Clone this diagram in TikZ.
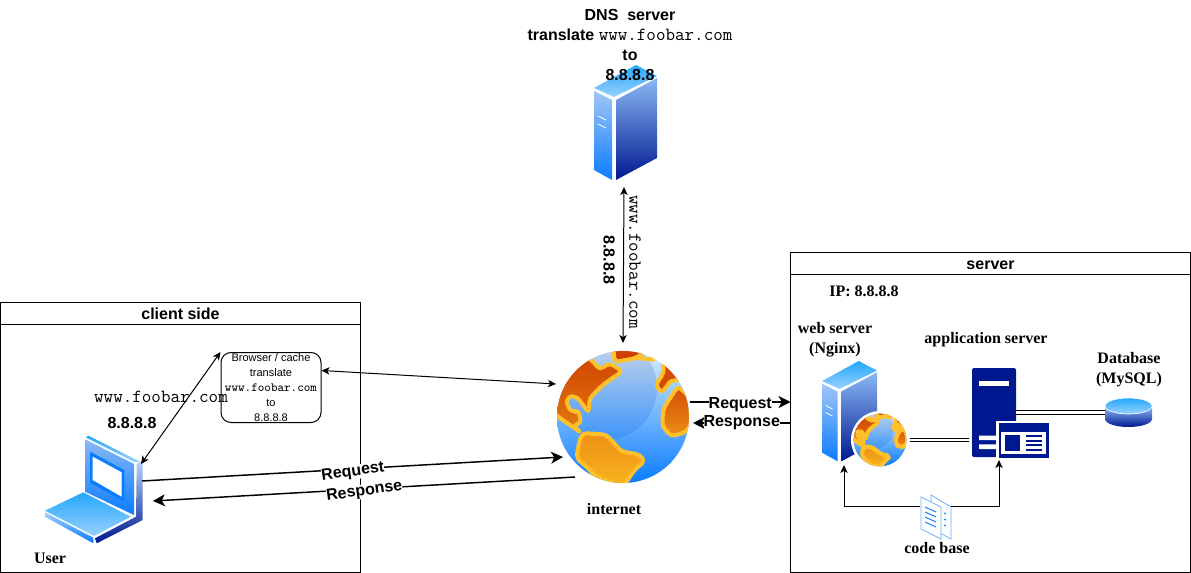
\documentclass[tikz,border=0pt]{standalone}
\usepackage{fontspec}
\setmainfont{Liberation Serif}
\setsansfont{Liberation Sans}
\usepackage{tikz}
\usetikzlibrary{arrows.meta, positioning, calc}
\definecolor{netNavy}{HTML}{00188F}
\definecolor{netBlue}{HTML}{0A7CFF}
\definecolor{netSky}{HTML}{22A8FB}
\definecolor{netPale}{HTML}{9AD0FF}
\definecolor{netSoft}{HTML}{8AB8F4}
\definecolor{netYellow}{HTML}{FFC02A}
\definecolor{netRust}{HTML}{CE3F00}
\definecolor{netAmber}{HTML}{F9B41E}
\definecolor{netDoc}{HTML}{66B2FF}
\newcommand{\fooweb}{{\ttfamily\fontsize{13.9}{15}\selectfont\mdseries www.foobar.com}}

\tikzset{
    % tower icon, drawn from the top left corner of its box (63 x 115)
    towericon/.pic={
        \shade[top color=netSky, bottom color=netPale] (0,23) -- (42,0) -- (63,11) -- (20,32) -- cycle;
        \shade[top color=netSoft!80, bottom color=netBlue] (0,26) -- (18,35) -- (18,115) -- (0,105) -- cycle;
        \shade[top color=netSoft, bottom color=netNavy] (22,35) -- (63,13) -- (63,93) -- (22,115) -- cycle;
        \draw[white, line width=0.6pt] (4,51) -- (12,55) (4,59) -- (12,63);
    },
    % globe icon, unit is one third of a reference pixel from the centre
    continent/.style={draw=netYellow, line width=3pt, rounded corners=3pt, line join=round},
    globeicon/.pic={
        \begin{scope}[x=0.25pt, y=-0.25pt]
            \shade[top color=netPale!40, middle color=netBlue!55!white, bottom color=netBlue] (0,0) circle (198);
            \begin{scope}
                \clip (0,0) circle (198);
                \shade[top color=netSoft!30!white!85!gray, bottom color=netBlue!60!netSoft] (-55,-87) circle (157);
                \path[continent, top color=netRust, bottom color=netRust!50!netAmber]
                    (-215,-15) -- (-190,-210) -- (-95,-172) -- (-70,-142) -- (-40,-162) -- (-2,-137) -- (-60,-97) -- (-100,-57) -- (-103,-12) -- (-120,-37) -- (-140,-62) -- (-165,-62) -- (-170,-37) -- (-150,-12) -- (-135,-22) -- (-125,18) -- (-150,25) -- (-125,48) -- cycle;
                \path[continent, fill=netRust]
                    (-30,-220) -- (-25,-165) -- (40,-177) -- (65,-195) -- (80,-230) -- cycle;
                \draw[continent] (40,-177) -- (95,-172);
                \path[continent, fill=netRust!90!netAmber]
                    (120,-190) -- (122,-132) -- (98,-97) -- (115,-72) -- (135,-97) -- (145,-112) -- (165,-107) -- (230,-160) -- cycle;
                \path[continent, top color=netRust!90!netAmber, bottom color=netRust!30!netAmber]
                    (165,-92) -- (135,-47) -- (120,-22) -- (118,28) -- (145,58) -- (190,45) -- (205,20) -- (200,-60) -- cycle;
                \path[continent, top color=netRust!30!netAmber, bottom color=netAmber]
                    (-130,68) -- (-140,123) -- (-100,158) -- (-85,178) -- (0,210) -- (35,158) -- (65,133) -- (50,113) -- (-5,103) -- (-50,53) -- (-120,48) -- cycle;
            \end{scope}
        \end{scope}
    },
    % laptop icon, drawn from the top left corner of its box (98 x 110)
    laptopicon/.pic={
        \shade[top color=netSky, bottom color=netPale] (43,0.5) -- (95,26.7) -- (90,27.3) -- (41,2.5) -- cycle;
        \shade[top color=netSoft, bottom color=netBlue] (40,4.3) -- (89,29) -- (89,80) -- (40,56.7) -- cycle;
        \fill[netBlue] (45,16.7) -- (79.3,35) -- (79.3,66.7) -- (45,47.7) -- cycle;
        \fill[white] (47.7,21.7) -- (76.7,37.3) -- (76.7,61.7) -- (47.7,45) -- cycle;
        \shade[top color=netSoft!60, bottom color=netNavy] (91.7,29) -- (97.7,25.7) -- (97.7,85) -- (51.7,108.3) -- (50,103.3) -- (91,81.7) -- cycle;
        \shade[top color=netSky, bottom color=netPale] (0,75.7) -- (38.3,57.3) -- (85.7,81.7) -- (49,101) -- cycle;
        \shade[top color=netPale, bottom color=netBlue] (0,77.3) -- (48.3,102.7) -- (48.3,108.3) -- (0,81.7) -- cycle;
    },
    % database icon, from the top left corner of its box (47 x 29)
    dbicon/.pic={
        \shade[top color=netSoft, bottom color=netNavy] (0,9) -- (0,21) arc[start angle=180, end angle=0, x radius=23.5, y radius=8] -- (47,9) -- cycle;
        \shade[draw=white, line width=0.5pt, top color=netSky, bottom color=netPale] (23.5,8) ellipse [x radius=23.5, y radius=8];
    },
    % application server icon, from the top left corner of its box (78 x 90)
    appicon/.pic={
        \fill[netNavy, rounded corners=1.5pt] (0,0) rectangle (44,89);
        \fill[white] (7,13) rectangle (37,17.5);
        \fill[white] (7,67.7) rectangle (24,72) (7,76.3) rectangle (24,81);
        \fill[white] (24.4,52.7) rectangle (78,90);
        \fill[netNavy] (27,55.3) rectangle (77,89.6);
        \fill[white] (28.7,63.7) rectangle (74.4,86);
        \fill[netNavy] (32.7,67.3) rectangle (48,82.7);
        \foreach \k in {67.3,71.8,76.3,80.8} {\fill[netNavy] (53.7,\k) rectangle (70.3,\k+1.8);}
    },
    % code base icon, from the top left corner of its box (30 x 44)
    docicon/.pic={
        \draw[netDoc, fill=white, line width=0.6pt] (10,0) -- (30,12) -- (30,44) -- (10,33) -- cycle;
        \draw[netDoc, fill=white, line width=0.6pt] (0,2) -- (20,12) -- (20,44) -- (0,34) -- cycle;
        \draw[netBlue, line width=0.7pt] (4,12) -- (15,17) (4,17) -- (15,22) (4,22) -- (15,27) (4,27) -- (15,32);
        \draw[netBlue, line width=0.7pt] (23,18) -- (25,19) (23,24) -- (25,25) (23,30) -- (25,31);
    },
}

\begin{document}
\begin{tikzpicture}[
            x=0.75pt, y=-0.75pt,
            >={Stealth[length=6pt, width=5.5pt, inset=1.6pt]},
            iconbox/.style ={inner sep=0pt, outer sep=0pt},
            panel/.style   ={draw=black, line width=0.75pt, inner sep=0pt, outer sep=0pt},
            panelhead/.style={panel, font=\sffamily\bfseries\fontsize{12}{14}\selectfont, text height=11.5pt, text depth=2.5pt},
            sanslabel/.style={font=\sffamily\bfseries\fontsize{12}{15}\selectfont, align=center, inner sep=0pt},
            seriflabel/.style={font=\rmfamily\bfseries\fontsize{12}{15}\selectfont, align=center, inner sep=0pt},
            monolabel/.style={font=\ttfamily\fontsize{13.9}{15}\selectfont, inner sep=0pt},
            flowlabel/.style={font=\sffamily\bfseries\fontsize{12}{13}\selectfont, fill=white, inner sep=0pt},
            thin link/.style={<->, line width=0.75pt},
            flow/.style     ={->, line width=1.1pt, >={Stealth[length=9pt, width=9pt, inset=2.5pt]}},
            twin/.style     ={double=white, draw=black, line width=0.6pt, double distance=1.9pt}
        ]
        \useasboundingbox (0,0) rectangle (1191,573);

        % the two panels
        \node[panel, minimum width=270pt, minimum height=201.75pt, anchor=north west] (client) at (0.5,303) {};
        \node[panelhead, minimum width=270pt, minimum height=16.5pt, anchor=north west] (clienthead) at (0.5,303) {client side};
        \node[panel, minimum width=300pt, minimum height=239.25pt, anchor=north west] (server) at (790.5,253) {};
        \node[panelhead, minimum width=300pt, minimum height=16.5pt, anchor=north west] (serverhead) at (790.5,253) {server};

        % icon boxes, the pictures are hung on them below
        \node[iconbox, minimum width=47.25pt, minimum height=86.25pt, anchor=north west] (dns) at (594,65) {};
        \node[iconbox, circle, minimum size=105pt] (globe) at (623,417) {};
        \node[iconbox, minimum width=73.5pt, minimum height=82.5pt, anchor=north west] (laptop) at (45,435) {};
        \node[iconbox, minimum width=33pt, minimum height=78pt, anchor=north west] (web) at (822,361) {};
        \node[iconbox, minimum width=33pt, minimum height=69pt, anchor=north west] (app) at (972,368) {};
        \node[iconbox, minimum width=35.25pt, minimum height=21.75pt, anchor=north west] (db) at (1105,398) {};
        \node[iconbox, minimum width=23.25pt, minimum height=16.5pt] (code) at (935.5,506) {};

        \pic at (594,65) {towericon};
        \pic at (623,417) {globeicon};
        \pic at (45,435) {laptopicon};
        \pic[scale=0.873] at (822,361) {towericon};
        % white ring round the small globe
        \node[iconbox, circle, fill=white, minimum size=43.5pt] (webglobe) at (880,440) {};
        \pic[scale=0.4] at (880,440) {globeicon};
        \pic at (972,368) {appicon};
        \pic at (1105,398) {dbicon};
        \pic at (921,495) {docicon};

        \node[draw=black, line width=0.75pt, rounded corners=7.5pt, minimum width=75pt, minimum height=52.5pt, anchor=north west, inner sep=0pt,
              font=\sffamily\fontsize{8.25}{11.2}\selectfont, align=center] (browser) at (220.5,352)
              {Browser / cache\\ translate\\ {\ttfamily\fontsize{9.4}{11.2}\selectfont www.foobar.com}\\ to\\ 8.8.8.8};

        % top of the picture and labels
        \node[sanslabel] (dnstext) at (630,45) {DNS\ \ server\\ translate \fooweb\\ to\\ 8.8.8.8};
        \node[monolabel] (userurl) at (161,397) {www.foobar.com};
        \node[sanslabel] (userip) at (132,423) {8.8.8.8};
        \node[seriflabel] (user) at (50,558) {User};
        \node[seriflabel] (internet) at (614,509) {internet};
        \node[seriflabel] (ip) at (864,291) {IP: 8.8.8.8};
        \node[seriflabel] (webtext) at (835,340) {web server\\ (Nginx)};
        \node[seriflabel] (apptext) at (986,340) {application server};
        \node[seriflabel] (dbtext) at (1129,370) {Database\\ (MySQL)};
        \node[seriflabel] (codetext) at (937,548) {code base};
        \node[monolabel, rotate=-90] (dnsurl) at (635,262) {www.foobar.com};
        \node[sanslabel, rotate=-90] (dnsip) at (609,260) {8.8.8.8};

        % connectors
        \draw[thin link] ($(dns.south)+(-1.5,7)$) -- ($(globe.north)+(0,-4)$);
        \draw[thin link] ($(laptop.east)+(-2,-26)$) -- (browser.north west);
        \draw[thin link] ($(browser.east)+(0,-17)$) -- ($(globe.west)+(3,-33)$);
        \draw[flow] ($(laptop.east)+(-1,-9)$) -- node[flowlabel, rotate=8, yshift=-2.5pt] {Request} ($(globe.west)+(10,40)$);
        \draw[flow] ($(globe.west)+(22,60)$) -- node[flowlabel, rotate=8, yshift=-2pt] {Response} ($(laptop.east)+(10,11)$);
        \draw[flow] ($(globe.east)+(-3,-15)$) -- node[flowlabel, yshift=-2pt] {Request} (server.west |- {$(globe.east)+(-3,-15)$});
        \draw[flow] (server.west |- {$(globe.east)+(0,6)$}) -- node[flowlabel] {Response} ($(globe.east)+(0,6)$);
        \draw[twin, shorten <=0.75pt, shorten >=2.25pt] (webglobe.east) -- (webglobe.east -| app.west);
        \draw[twin] (db.west) -- (db.west -| app.east);
        \draw[->, line width=0.75pt] (code.west) -| (web.south);
        \draw[->, line width=0.75pt] (code.east) -| ($(app.south)+(5,0)$);
\end{tikzpicture}
\end{document}
